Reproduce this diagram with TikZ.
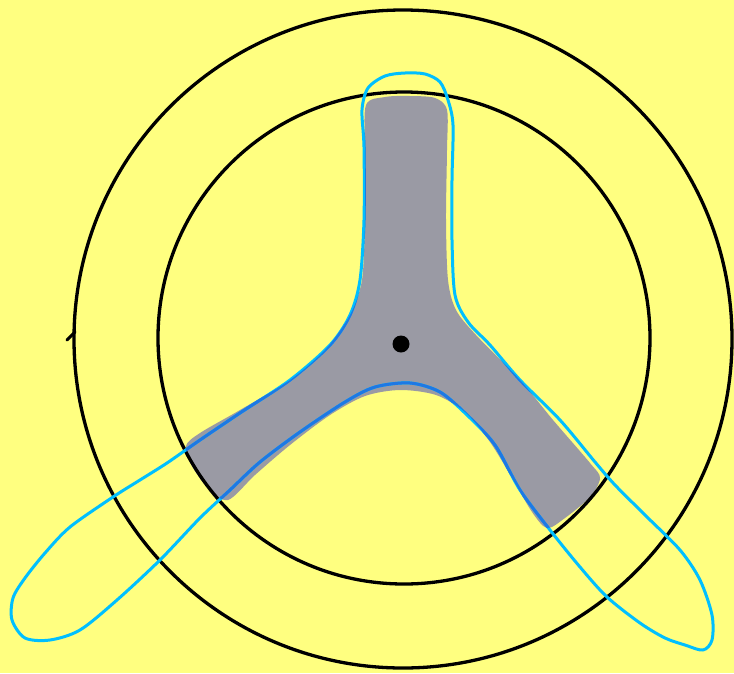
\documentclass[tikz,border=0pt]{standalone}
\usepackage{tikz}

\definecolor{paper}{RGB}{255,255,128}
\definecolor{rotor}{RGB}{154,154,164}
\definecolor{loopcyan}{RGB}{0,191,255}
\definecolor{loopblue}{RGB}{30,120,228}

\begin{document}
\begin{tikzpicture}[
  x=1pt,y=-1pt,
  ring/.style={draw=black,line width=3.3pt},
  outline/.style={draw=loopcyan,line width=3pt,line join=round},
  overlap/.style={draw=loopblue,line width=3pt,line join=round}
]
  \useasboundingbox (0,0) rectangle (734,673);
  \fill[paper] (0,0) rectangle (734,673);

  % grey three-armed shape
  \def\rotorpath{plot[smooth cycle,tension=0.5] coordinates {
    (366,105) (385,97) (410,96) (435,98) (447,110) (447,150) (446,220)
    (448,280) (456,310) (476,335) (520,380) (553,420) (590,463) (600,478)
    (590,497) (565,518) (547,528) (532,512) (512,478) (490,442) (465,412)
    (436,395) (400,390) (365,396) (330,415) (290,445) (255,475) (228,500)
    (208,488) (192,466) (186,446) (200,433) (240,410) (290,380) (325,350)
    (350,315) (362,280) (365,220) (365,150)}}
  \fill[rotor] \rotorpath;

  % circles
  \draw[ring] (403,339) circle[radius=329];
  \draw[ring] (404,338) circle[radius=246];
  \draw[black,line width=3pt,line cap=round] (75,332) -- (67,340);

  % cyan loop
  \def\looppath{plot[smooth cycle,tension=0.5] coordinates {
    (364,147) (362,110) (368,88) (385,76) (405,73) (425,74) (440,82)
    (448,100) (453,125) (452,180) (452,240) (455,295) (468,322) (490,345)
    (520,380) (560,420) (595,462) (615,485) (645,515) (680,550) (700,580)
    (712,615) (712,640) (703,650) (685,645) (665,638) (640,623) (607,597)
    (580,567) (550,530) (520,490) (495,445) (467,415) (440,392) (410,383)
    (375,387) (345,402) (300,432) (260,462) (230,490) (200,518) (160,560)
    (117,600) (80,630) (50,640) (25,638) (12,620) (13,598) (25,578)
    (45,553) (70,527) (113,497) (140,480) (167,463) (200,440) (240,413)
    (290,380) (330,345) (350,315) (360,280) (364,220)}}
  \draw[outline] \looppath;
  \begin{scope}
    \clip \rotorpath;
    \draw[overlap] \looppath;
  \end{scope}

  % centre dot
  \fill[black] (401,344) circle[radius=8.5];
\end{tikzpicture}
\end{document}
